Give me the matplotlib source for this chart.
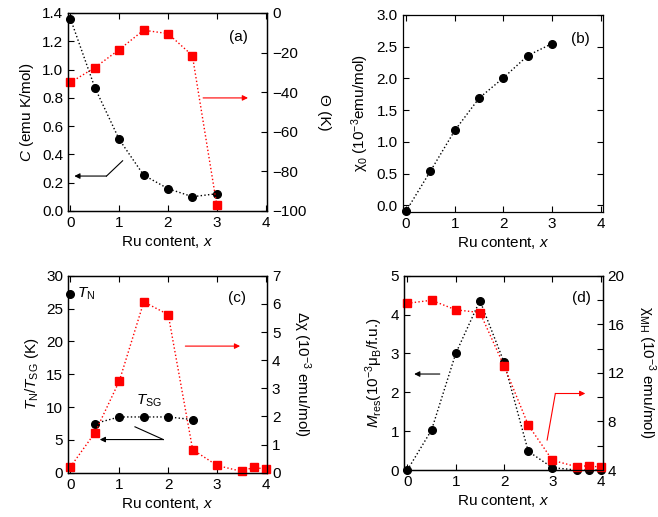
import numpy as np
import matplotlib
matplotlib.use("Agg")
import matplotlib.pyplot as plt
from matplotlib.ticker import MultipleLocator

plt.rcParams['font.family'] = ['Liberation Sans', 'DejaVu Sans']
plt.rcParams['mathtext.fontset'] = 'custom'
plt.rcParams['mathtext.rm'] = 'Liberation Sans'
plt.rcParams['mathtext.it'] = 'Liberation Sans:italic'
plt.rcParams['font.size'] = 11
plt.rcParams['xtick.direction'] = 'in'
plt.rcParams['ytick.direction'] = 'in'
plt.rcParams['axes.linewidth'] = 0.9

# (a) Curie constant and Weiss temperature
x_a = [0, 0.5, 1, 1.5, 2, 2.5, 3]
C = [1.36, 0.873, 0.506, 0.254, 0.158, 0.101, 0.122]
theta = [-35.1, -27.6, -18.5, -8.7, -10.4, -21.5, -97.0]

# (b) chi_0
x_b = [0, 0.5, 1, 1.5, 2, 2.5, 3]
chi0 = [-0.09, 0.54, 1.18, 1.69, 2.01, 2.36, 2.55]

# (c) transition temperatures and delta chi
x_TN = [0]
TN = [27.2]
x_TSG = [0.5, 1, 1.5, 2, 2.5]
TSG = [7.5, 8.5, 8.5, 8.5, 8.1]
x_c = [0, 0.5, 1, 1.5, 2, 2.5, 3, 3.5, 3.75, 4]
dchi = [0.21, 1.42, 3.26, 6.07, 5.62, 0.82, 0.26, 0.05, 0.20, 0.12]

# (d) remanent magnetization and chi_MH
x_d = [0, 0.5, 1, 1.5, 2, 2.5, 3, 3.5, 3.75, 4]
Mres = [0.0, 1.03, 3.0, 4.36, 2.77, 0.48, 0.06, 0.0, 0.0, 0.0]
chiMH = [17.73, 17.98, 17.19, 16.97, 12.57, 7.7, 4.8, 4.27, 4.36, 4.22]

red = '#ff0000'
circ = dict(color='black', marker='o', markersize=5.5, linestyle=':', linewidth=1.0, clip_on=False)
sq = dict(color=red, marker='s', markersize=6, linestyle=':', linewidth=1.0, clip_on=False)
xlab = 'Ru content, $x$'

fig = plt.figure(figsize=(6.58, 5.17), dpi=100)
ax_a = fig.add_axes([0.1033, 0.5919, 0.3025, 0.3830])
ax_b = fig.add_axes([0.6120, 0.5905, 0.3040, 0.3805])
ax_c = fig.add_axes([0.1033, 0.0855, 0.3025, 0.3812])
ax_d = fig.add_axes([0.6140, 0.0909, 0.3020, 0.3758])


def style(ax, right=False):
    ax.tick_params(top=True, right=right, length=4, width=0.8, labelsize=11)
    ax.set_xticks([0, 1, 2, 3, 4])
    ax.set_xlabel(xlab, fontsize=11, labelpad=3)


def right_label(ax, text):
    ax.set_ylabel(text, rotation=270, va='bottom', labelpad=8, fontsize=11)


def arrow(ax, start, end, color):
    ax.annotate('', xy=end, xytext=start,
                arrowprops=dict(arrowstyle='-|>', color=color, lw=0.8,
                                mutation_scale=8, shrinkA=0, shrinkB=0))


# panel (a)
ax_a.plot(x_a, C, **circ)
ax_a.set_xlim(-0.05, 4.03)
ax_a.set_ylim(0, 1.4)
ax_a.yaxis.set_major_locator(MultipleLocator(0.2))
ax_a.yaxis.set_major_formatter(plt.FormatStrFormatter('%.1f'))
ax_a.set_ylabel('$C$ (emu K/mol)', fontsize=11, labelpad=4)
style(ax_a)
ax_a.plot([1.07, 0.74], [0.355, 0.247], color='black', lw=0.8)
arrow(ax_a, (0.74, 0.247), (0.08, 0.247), 'black')
ax_a.text(0.855, 0.88, '(a)', transform=ax_a.transAxes, ha='center', va='center', fontsize=11)
ax_a2 = ax_a.twinx()
ax_a2.plot(x_a, theta, **sq)
ax_a2.set_ylim(-100, 0)
ax_a2.yaxis.set_major_locator(MultipleLocator(20))
ax_a2.tick_params(length=4, width=0.8, labelsize=11)
right_label(ax_a2, 'Θ (K)')
arrow(ax_a2, (2.72, -42.9), (3.64, -42.9), red)

# panel (b)
ax_b.plot(x_b, chi0, **circ)
ax_b.set_xlim(-0.07, 4.04)
ax_b.set_ylim(-0.1, 3.0)
ax_b.yaxis.set_major_locator(MultipleLocator(0.5))
ax_b.yaxis.set_major_formatter(plt.FormatStrFormatter('%.1f'))
ax_b.set_ylabel('χ$_0$ (10$^{-3}$emu/mol)', fontsize=11, labelpad=4)
style(ax_b, right=True)
ax_b.text(0.887, 0.88, '(b)', transform=ax_b.transAxes, ha='center', va='center', fontsize=11)

# panel (c)
ax_c.plot(x_TN, TN, **circ)
ax_c.plot(x_TSG, TSG, **circ)
ax_c.set_xlim(-0.05, 4.02)
ax_c.set_ylim(0, 30)
ax_c.yaxis.set_major_locator(MultipleLocator(5))
ax_c.set_ylabel('$T_{\\rm N}$/$T_{\\rm SG}$ (K)', fontsize=11, labelpad=4)
style(ax_c)
ax_c.text(0.14, 27.2, '$T_{\\rm N}$', ha='left', va='center', fontsize=11)
ax_c.text(1.6, 10.9, '$T_{\\rm SG}$', ha='center', va='center', fontsize=11)
ax_c.plot([1.32, 1.90], [7.0, 5.06], color='black', lw=0.8)
arrow(ax_c, (1.90, 5.06), (0.6, 5.06), 'black')
ax_c.text(0.851, 0.885, '(c)', transform=ax_c.transAxes, ha='center', va='center', fontsize=11)
ax_c2 = ax_c.twinx()
ax_c2.plot(x_c, dchi, **sq)
ax_c2.set_ylim(0, 7)
ax_c2.yaxis.set_major_locator(MultipleLocator(1))
ax_c2.tick_params(length=4, width=0.8, labelsize=11)
right_label(ax_c2, 'Δχ (10$^{-3}$ emu/mol)')
arrow(ax_c2, (2.35, 4.5), (3.47, 4.5), red)

# panel (d)
ax_d.plot(x_d, Mres, **circ)
ax_d.set_xlim(-0.07, 4.04)
ax_d.set_ylim(0, 5)
ax_d.yaxis.set_major_locator(MultipleLocator(1))
ax_d.set_ylabel('$M_{\\rm res}$(10$^{-3}$μ$_{\\rm B}$/f.u.)', fontsize=11, labelpad=4)
style(ax_d)
arrow(ax_d, (0.67, 2.47), (0.14, 2.47), 'black')
ax_d.text(0.894, 0.884, '(d)', transform=ax_d.transAxes, ha='center', va='center', fontsize=11)
ax_d2 = ax_d.twinx()
ax_d2.plot(x_d, chiMH, **sq)
ax_d2.set_ylim(4, 20)
ax_d2.yaxis.set_major_locator(MultipleLocator(4))
ax_d2.yaxis.set_minor_locator(MultipleLocator(2))
ax_d2.tick_params(which='both', length=4, width=0.8, labelsize=11)
right_label(ax_d2, 'χ$_{\\rm MH}$ (10$^{-3}$ emu/mol)')
ax_d2.plot([2.89, 3.06], [6.47, 10.3], color=red, lw=0.8)
arrow(ax_d2, (3.06, 10.3), (3.68, 10.3), red)

fig.savefig('out.png', dpi=100)
